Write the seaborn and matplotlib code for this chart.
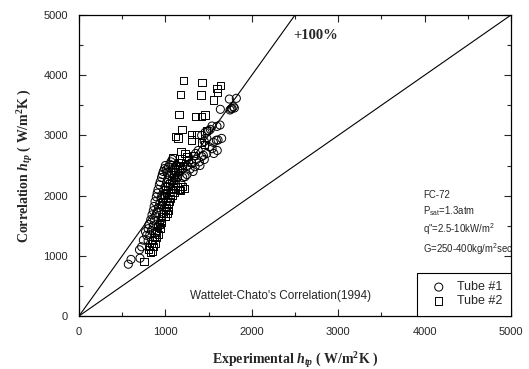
import matplotlib
matplotlib.use("Agg")
import matplotlib.pyplot as plt
from matplotlib.ticker import MultipleLocator
import seaborn as sns
import pandas as pd

# Tube #1 (circles)
tube1_x = [571, 602, 706, 700, 725, 745, 770, 783, 800, 810, 830, 845, 860, 870, 880, 895, 905, 915,
           930, 940, 955, 965, 975, 990, 1000, 1010, 1020, 1035, 1050, 1065, 1080,
           800, 820, 840, 860, 870, 890, 900, 920, 935, 950, 960, 980, 1000, 1015, 1030, 1050, 1070,
           1090, 1110, 1130, 1150, 1170, 1200, 1227, 1250, 1285, 1300, 1343, 1360, 1393, 1420, 1439,
           1478, 1508, 1540, 1555, 1590, 1609, 1651, 1539, 1597, 1632, 1520, 1636, 1748, 1770, 1786,
           1798, 1740, 1821, 1760,
           880, 900, 920, 950, 970, 990, 1010, 1030, 1060, 1080, 1100, 1120, 1140, 1180, 1200, 1250,
           1320, 1400, 1450, 1350, 1380, 1450, 1480, 1420, 1460, 1500, 1560, 1600]
tube1_y = [860, 940, 960, 1100, 1150, 1260, 1400, 1340, 1450, 1520, 1600, 1680, 1750, 1820, 1900, 1980, 2040, 2100,
           2180, 2230, 2300, 2350, 2400, 2450, 2500, 2430, 2380, 2470, 2520, 2560, 2600,
           1250, 1350, 1420, 1500, 1580, 1650, 1720, 1800, 1870, 1950, 2010, 2080, 2150, 2220, 2280, 2330, 2380,
           2420, 2460, 2500, 2350, 2400, 2450, 2314, 2500, 2440, 2550, 2480, 2600, 2560, 2650, 2670,
           2700, 2810, 2780, 2885, 2920, 2923, 2950, 3156, 3150, 3172, 3100, 3433, 3422, 3450, 3477,
           3455, 3604, 3616, 3440,
           1300, 1400, 1500, 1600, 1700, 1800, 1900, 1950, 2050, 2100, 2200, 2250, 2300, 2200, 2300, 2350,
           2400, 2500, 2600, 2700, 2750, 2900, 2950, 3000, 3050, 3080, 2700, 2750]

# Tube #2 (squares)
tube2_x = [752, 800, 820, 840, 850, 870, 880, 900, 910, 930, 950, 960, 980, 1000, 1010, 1030, 1050, 1060,
           1080, 1100, 1120, 1140, 1160, 1180, 1200, 1220, 1000, 1020, 1040, 960, 940, 920, 900, 880,
           860, 850, 830, 1050, 1070, 1090, 1100, 1120, 1140, 1160, 1180, 1080, 1189, 1227, 1323, 1181,
           1250, 1270, 1150, 1200, 1300,
           1119, 1146, 1192, 1304, 1366, 1304, 1416, 1450, 1478, 1157, 1346, 1420, 1458, 1173, 1412,
           1212, 1424, 1597, 1640, 1605, 1562,
           1000, 1030, 950, 970, 990, 1010]
tube2_y = [903, 1100, 1150, 1200, 1250, 1300, 1380, 1420, 1480, 1520, 1580, 1650, 1700, 1750, 1800, 1850, 1900, 1950,
           2000, 2050, 2100, 2150, 2100, 2080, 2150, 2120, 1650, 1700, 1750, 1550, 1450, 1350, 1300, 1200,
           1150, 1080, 1050, 2200, 2250, 2300, 2350, 2400, 2450, 2500, 2550, 2636, 2608, 2702, 2669, 2729,
           2650, 2600, 2550, 2500, 2550,
           2979, 2957, 3101, 3018, 3018, 2923, 2885, 2846, 3084, 3350, 3317, 3317, 3339, 3676, 3671,
           3908, 3876, 3782, 3826, 3709, 3588,
           2100, 2150, 1850, 1900, 2000, 2050]

line100_x = [0, 2500]
line100_y = [0, 5000]
parity_x = [0, 5000]
parity_y = [0, 5000]

sns.set_style("ticks")
plt.rcParams['font.family'] = ['Liberation Sans', 'DejaVu Sans']
plt.rcParams['mathtext.fontset'] = 'custom'
plt.rcParams['mathtext.rm'] = 'Liberation Serif:bold'
plt.rcParams['mathtext.it'] = 'Liberation Serif:italic:bold'
plt.rcParams['mathtext.bf'] = 'Liberation Serif:bold'
plt.rcParams['mathtext.sf'] = 'Liberation Sans'

fig = plt.figure(figsize=(5.29, 3.69), dpi=100)
ax = fig.add_axes([79/529, 53/369, 432/529, 301/369])

df1 = pd.DataFrame({'x': tube1_x, 'y': tube1_y})
df2 = pd.DataFrame({'x': tube2_x, 'y': tube2_y})

sns.scatterplot(data=df1, x='x', y='y', ax=ax, marker='o', s=34, facecolors='none',
                edgecolors='black', linewidth=0.7, label='Tube #1', zorder=3)
sns.scatterplot(data=df2, x='x', y='y', ax=ax, marker='s', s=26, facecolors='none',
                edgecolors='black', linewidth=0.7, label='Tube #2', zorder=3)

ax.plot(line100_x, line100_y, color='black', lw=0.8, zorder=2)
ax.plot(parity_x, parity_y, color='black', lw=0.8, zorder=2)

ax.set_xlim(0, 5000)
ax.set_ylim(0, 5000)
ax.xaxis.set_major_locator(MultipleLocator(1000))
ax.yaxis.set_major_locator(MultipleLocator(1000))
ax.xaxis.set_minor_locator(MultipleLocator(500))
ax.yaxis.set_minor_locator(MultipleLocator(500))
ax.tick_params(which='both', direction='in', top=True, right=True, labelsize=8, width=0.8, pad=8)
ax.tick_params(which='major', length=5)
ax.tick_params(which='minor', length=3)
for sp in ax.spines.values():
    sp.set_linewidth(0.9)
    sp.set_color('black')

ax.set_xlabel(r'Experimental $h_{tp}$ ( W/m$^{2}$K )', fontsize=10,
              fontfamily='Liberation Serif', fontweight='bold', labelpad=9)
ax.set_ylabel(r'Correlation $h_{tp}$ ( W/m$^{2}$K )', fontsize=10,
              fontfamily='Liberation Serif', fontweight='bold', labelpad=6)

ax.text(2477, 4667, '+100%', fontsize=10.5, fontfamily='Liberation Serif', fontweight='bold',
        va='center', ha='left')
ax.text(3985, 2093, 'FC-72\n' + r'P$_{\mathsf{sat}}$=1.3atm' + '\n' + r'q"=2.5-10kW/m$^{\mathsf{2}}$'
        + '\n' + r'G=250-400kg/m$^{\mathsf{2}}$sec', fontsize=6.9,
        va='top', ha='left', linespacing=1.4)
ax.text(2338, 332, "Wattelet-Chato's Correlation(1994)", fontsize=8.5, ha='center', va='center')

leg = ax.legend(loc='lower right', borderaxespad=0, fancybox=False, framealpha=1,
                edgecolor='black', fontsize=9, handletextpad=0.4, borderpad=0.7,
                labelspacing=0.15, handlelength=2.1)
leg.get_frame().set_linewidth(0.8)

fig.savefig('out.png', dpi=100)
